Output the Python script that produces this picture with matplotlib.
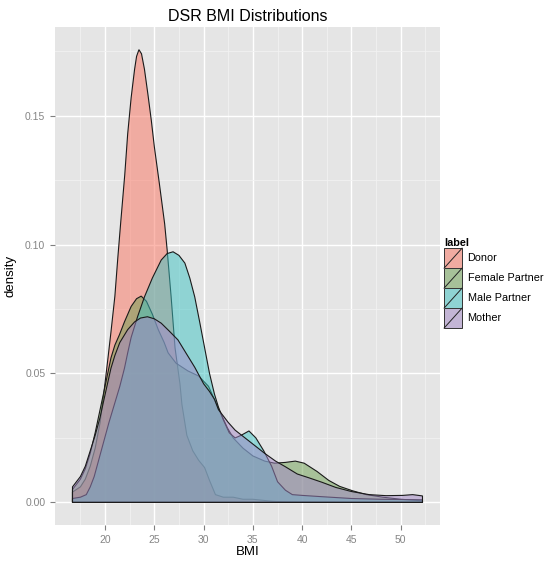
import numpy as np
import matplotlib
matplotlib.use("Agg")
import matplotlib.pyplot as plt
from matplotlib.patches import Rectangle
from matplotlib.lines import Line2D
from matplotlib.legend_handler import HandlerBase

plt.rcParams["font.family"] = ["Liberation Sans", "DejaVu Sans"]

# density curves per group (BMI, density)
labels = ["Donor", "Female Partner", "Male Partner", "Mother"]
colors = ["#FB735F", "#6B9F4F", "#3BC3C3", "#A387C7"]

donor_x = [16.7, 17.5, 18.0, 18.5, 19.0, 19.5, 19.9, 20.3, 20.6, 21.0, 21.3, 21.6, 22.0,
           22.3, 22.65, 23.0, 23.2, 23.44, 23.7, 24.0, 24.36, 24.7, 25.0, 25.5, 26.05,
           26.3, 26.7, 27.1, 27.6, 27.8, 28.3, 28.9, 29.5, 30.1, 30.6, 31.2, 32.0, 33.0,
           34.0, 35.0, 36.0, 37.0, 38.0, 40.0, 45.0, 52.2]
donor_y = [0.004, 0.006, 0.009, 0.014, 0.021, 0.031, 0.043, 0.056, 0.066, 0.080, 0.095,
           0.109, 0.127, 0.143, 0.157, 0.168, 0.173, 0.1756, 0.174, 0.168, 0.158, 0.148,
           0.138, 0.124, 0.108, 0.098, 0.080, 0.060, 0.046, 0.038, 0.026, 0.020, 0.0163,
           0.0135, 0.0085, 0.003, 0.002, 0.002, 0.0012, 0.0012, 0.0008, 0.0004, 0.0002,
           0.0001, 0.0, 0.0]

female_x = [16.7, 17.5, 18.0, 18.5, 19.0, 19.5, 20.0, 20.6, 21.0, 21.46, 21.97, 22.65,
            23.2, 23.67, 24.2, 24.8, 25.4, 26.0, 26.4, 27.2, 28.4, 29.5, 30.5, 31.2, 31.8,
            32.4, 33.0, 34.0, 35.0, 36.2, 37.2, 38.3, 39.3, 40.2, 41.5, 42.7, 43.8, 45.1,
            46.5, 48.2, 50.0, 52.2]
female_y = [0.005, 0.009, 0.013, 0.019, 0.027, 0.036, 0.045, 0.056, 0.061, 0.065, 0.070,
            0.076, 0.079, 0.080, 0.078, 0.073, 0.067, 0.062, 0.058, 0.054, 0.051, 0.049,
            0.045, 0.039, 0.034, 0.029, 0.025, 0.021, 0.018, 0.016, 0.0152, 0.0155, 0.016,
            0.0152, 0.012, 0.0085, 0.0062, 0.0045, 0.003, 0.002, 0.0012, 0.0006]

male_x = [16.7, 17.5, 18.1, 18.5, 18.9, 19.4, 19.9, 20.4, 20.95, 21.5, 21.97, 22.3, 22.65,
          23.3, 24.0, 24.8, 25.7, 26.3, 26.9, 27.5, 28.1, 28.6, 29.1, 29.6, 30.1, 30.6,
          31.1, 31.5, 32.0, 32.6, 33.2, 33.8, 34.6, 35.3, 36.1, 36.9, 37.5, 38.3, 39.0,
          40.0, 42.0, 45.0, 48.0, 52.2]
male_y = [0.0015, 0.002, 0.003, 0.006, 0.010, 0.017, 0.024, 0.031, 0.038, 0.045, 0.052,
          0.058, 0.064, 0.072, 0.0797, 0.087, 0.094, 0.0965, 0.0972, 0.0958, 0.0928, 0.087,
          0.0797, 0.070, 0.060, 0.050, 0.042, 0.037, 0.032, 0.027, 0.025, 0.026, 0.0277,
          0.025, 0.020, 0.014, 0.008, 0.0047, 0.003, 0.0027, 0.0022, 0.0015, 0.0012, 0.001]

mother_x = [16.7, 17.5, 18.0, 18.5, 19.0, 19.5, 19.9, 20.6, 21.0, 21.5, 22.3, 23.0, 23.6,
            24.3, 25.0, 25.7, 26.5, 27.4, 28.2, 29.1, 30.0, 30.6, 31.1, 31.5, 32.5, 33.2,
            34.2, 35.2, 36.2, 37.3, 38.3, 39.5, 40.7, 42.0, 43.4, 45.0, 46.8, 48.5, 50.2,
            51.2, 52.2]
mother_y = [0.006, 0.010, 0.014, 0.020, 0.026, 0.033, 0.040, 0.052, 0.057, 0.062, 0.067,
            0.070, 0.0715, 0.072, 0.0712, 0.0695, 0.0665, 0.063, 0.058, 0.0524, 0.046,
            0.043, 0.040, 0.036, 0.031, 0.028, 0.025, 0.022, 0.019, 0.016, 0.0138, 0.011,
            0.0095, 0.0078, 0.0058, 0.0042, 0.003, 0.0026, 0.0027, 0.003, 0.0025]

series = [(donor_x, donor_y), (female_x, female_y), (male_x, male_y), (mother_x, mother_y)]
ALPHA = 0.5
PANEL = "#E5E5E5"


class SlashKey(HandlerBase):
    """ggplot-style legend key: filled square with a diagonal stroke."""
    def create_artists(self, legend, orig_handle, xdescent, ydescent, width, height,
                       fontsize, trans):
        x0, y0 = -xdescent, -ydescent
        bg = Rectangle((x0, y0), width, height, facecolor=PANEL, edgecolor="none",
                       transform=trans)
        r = Rectangle((x0, y0), width, height, facecolor=orig_handle.get_facecolor(),
                      edgecolor="#333333", lw=0.7, transform=trans)
        ln = Line2D([x0, x0 + width], [y0, y0 + height], color="#222222", lw=0.7,
                    transform=trans)
        return [bg, r, ln]


fig = plt.figure(figsize=(5.51, 5.63), dpi=100)
ax = fig.add_axes([0.0998, 0.0675, 0.6987, 0.8845])
ax.set_facecolor(PANEL)

all_x = np.concatenate([np.asarray(x) for x, _ in series])
all_y = np.concatenate([np.asarray(y) for _, y in series])
xr = all_x.max() - all_x.min()
yr = all_y.max()
ax.set_xlim(all_x.min() - 0.05 * xr, all_x.max() + 0.05 * xr)
ax.set_ylim(-0.05 * yr, yr * 1.05)

# grid: white majors, lighter minors
ax.set_xticks([20, 25, 30, 35, 40, 45, 50])
ax.set_xticks(np.arange(17.5, 53, 5), minor=True)
ax.set_yticks([0.0, 0.05, 0.10, 0.15])
ax.set_yticks([0.025, 0.075, 0.125, 0.175], minor=True)
ax.set_yticklabels(["0.00", "0.05", "0.10", "0.15"])
ax.grid(which="major", color="white", lw=1.0)
ax.grid(which="minor", color="#F2F2F2", lw=0.6)
ax.set_axisbelow(True)
for s in ax.spines.values():
    s.set_visible(False)
ax.tick_params(which="major", colors="#7F7F7F", labelsize=7.5, length=3.5, width=0.8,
               labelcolor="#858585")
ax.tick_params(which="minor", length=0)

handles = []
for (x, y), c, lab in zip(series, colors, labels):
    x = np.asarray(x)
    y = np.asarray(y)
    px = np.r_[x, x[-1], x[0]]
    py = np.r_[y, 0.0, 0.0]
    ax.fill(px, py, facecolor=matplotlib.colors.to_rgba(c, ALPHA), edgecolor="#1a1a1a",
            lw=0.8, zorder=2)
    handles.append(Rectangle((0, 0), 1, 1, facecolor=matplotlib.colors.to_rgba(c, ALPHA)))

ax.set_xlabel("BMI", fontsize=9.5, labelpad=1)
ax.set_ylabel("density", fontsize=9.5, labelpad=6)
ax.set_title("DSR BMI Distributions", fontsize=11.5, pad=4)

leg = fig.legend(handles, labels, handler_map={Rectangle: SlashKey()},
                 loc="upper left", bbox_to_anchor=(0.806, 0.577), frameon=False,
                 fontsize=7.8, title="label", title_fontproperties={"weight": "bold", "size": 7.8},
                 handlelength=1.66, handleheight=2.46, handletextpad=0.5, labelspacing=0.0,
                 borderpad=0.0, borderaxespad=0.0, alignment="left")

fig.savefig("out.png", dpi=100)
